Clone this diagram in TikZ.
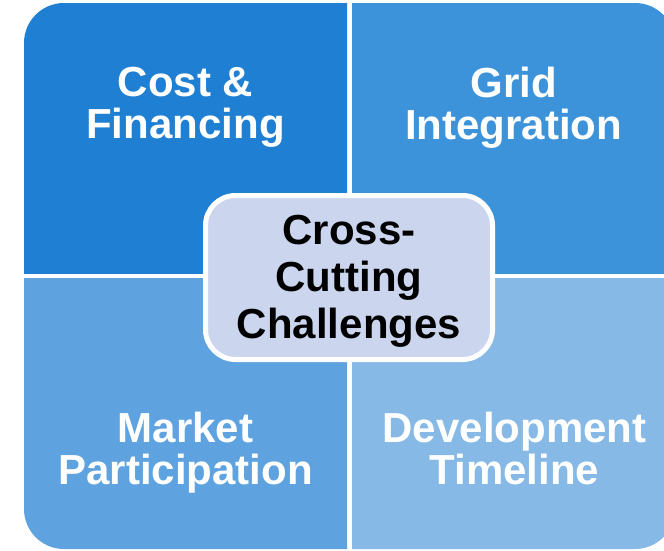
\documentclass[tikz,border=0pt]{standalone}
\usepackage{fontspec}
\setmainfont{Liberation Sans}
\definecolor{qTL}{HTML}{1E7FD3}
\definecolor{qTR}{HTML}{3D93DA}
\definecolor{qBL}{HTML}{5EA3DF}
\definecolor{qBR}{HTML}{86B9E6}
\definecolor{qC}{HTML}{CBD6EE}
\tikzset{
  quadtext/.style={anchor=north, align=center, inner sep=0pt, text=white,
    font={\fontsize{42}{42}\selectfont\bfseries}},
  centertext/.style={anchor=north, align=center, inner sep=0pt, text=black,
    font={\fontsize{42}{47}\selectfont\bfseries}},
  bigshape/.style={rounded corners=40pt},
}
\begin{document}
\begin{tikzpicture}[x=1pt,y=-1pt]
\useasboundingbox (0,0) rectangle (664,550);
\fill[white] (0,0) rectangle (664,550);
% quadrants
\begin{scope}
  \clip (0,0) rectangle (347,273.5);
  \fill[qTL,bigshape] (24,3) rectangle (675,549);
\end{scope}
\begin{scope}
  \clip (352,0) rectangle (664,273.5);
  \fill[qTR,bigshape] (24,3) rectangle (675,549);
\end{scope}
\begin{scope}
  \clip (0,278.5) rectangle (347,550);
  \fill[qBL,bigshape] (24,3) rectangle (675,549);
\end{scope}
\begin{scope}
  \clip (352,278.5) rectangle (664,550);
  \fill[qBR,bigshape] (24,3) rectangle (675,549);
\end{scope}
% centre box
\draw[white, line width=5pt, fill=qC, rounded corners=30pt] (205.5,195.5) rectangle (492.5,359.5);
% texts
\node[quadtext] (cost) at (185.5,66.5) {Cost \&\\Financing};
\node[quadtext] (grid) at (513.5,66.5) {Grid\\Integration};
\node[quadtext] (market) at (185.5,411.5) {Market\\Participation};
\node[quadtext] (dev) at (514.5,411.5) {Development\\Timeline};
\node[centertext] (center) at (349,214.5) {Cross-\\Cutting\\Challenges};
\end{tikzpicture}
\end{document}
